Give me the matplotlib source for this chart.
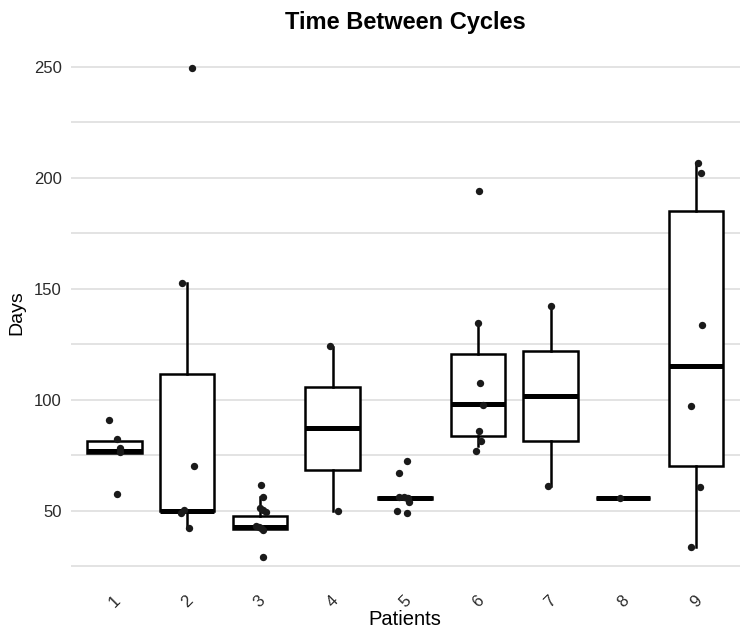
import matplotlib
matplotlib.use('Agg')
import matplotlib.pyplot as plt

plt.rcParams['font.family'] = ['Liberation Sans', 'DejaVu Sans']

patients = ['1', '2', '3', '4', '5', '6', '7', '8', '9']

# box statistics (days)
q1 = [76.1, 50.0, 42.0, 68.6, 55.3, 83.5, 81.5, 56.0, 70.4]
med = [76.8, 50.0, 42.6, 87.2, 55.8, 98.2, 101.8, 56.0, 115.3]
q3 = [81.5, 111.7, 47.9, 105.7, 56.4, 120.7, 122.1, 56.0, 185.1]
whislo = [76.1, 42.3, 42.0, 50.1, 55.3, 79.0, 61.0, 56.0, 33.9]
whishi = [81.5, 152.7, 56.4, 123.7, 56.4, 134.7, 142.5, 56.0, 206.6]

# jittered observations: value and horizontal jitter (category units)
days = [
    [91.0, 82.3, 78.2, 76.3, 57.7],
    [249.7, 152.7, 70.0, 50.5, 49.2, 42.2],
    [61.8, 56.2, 51.2, 50.5, 49.4, 43.4, 42.7, 41.4, 42.2, 29.0],
    [124.3, 50.0],
    [72.5, 67.1, 56.4, 56.2, 55.7, 56.0, 54.2, 50.1, 49.1],
    [194.1, 134.7, 107.5, 97.7, 86.0, 81.5, 77.0],
    [142.5, 61.0],
    [56.0],
    [206.6, 202.4, 133.5, 97.4, 60.8, 33.9],
]
jitter = [
    [-0.08, 0.04, 0.07, 0.07, 0.03],
    [0.07, -0.07, 0.09, -0.04, -0.09, 0.03],
    [0.01, 0.04, 0.0, 0.05, 0.09, -0.05, -0.01, 0.05, 0.02, 0.05],
    [-0.03, 0.08],
    [0.03, -0.08, -0.08, -0.02, 0.03, 0.04, 0.05, -0.11, 0.02],
    [0.01, 0.0, 0.03, 0.07, 0.01, 0.04, -0.03],
    [0.0, -0.03],
    [-0.05],
    [0.03, 0.07, 0.08, -0.07, 0.06, -0.07],
]

fig, ax = plt.subplots(figsize=(7.5, 6.43), dpi=100)
fig.subplots_adjust(left=0.0945, right=0.986, bottom=0.095, top=0.933)

pos = list(range(1, len(patients) + 1))
stats = []
for i in range(len(patients)):
    stats.append({'q1': q1[i], 'med': med[i], 'q3': q3[i],
                  'whislo': whislo[i], 'whishi': whishi[i], 'fliers': []})

ax.bxp(stats, positions=pos, widths=0.75, showfliers=False, showcaps=False,
       patch_artist=True,
       boxprops=dict(facecolor='white', edgecolor='black', linewidth=1.8),
       medianprops=dict(color='black', linewidth=3.6, solid_capstyle='butt'),
       whiskerprops=dict(color='black', linewidth=1.8))

for i in range(len(patients)):
    xs = [pos[i] + j for j in jitter[i]]
    ax.scatter(xs, days[i], s=28, color='#1a1a1a', zorder=5, linewidths=0)

ax.set_xlim(0.4, 9.6)
ax.set_ylim(18, 260.7)
ax.set_yticks([50, 100, 150, 200, 250])
ax.set_yticks([25, 75, 125, 175, 225], minor=True)
ax.set_xticks(pos)
ax.set_xticklabels(patients, rotation=45)

ax.grid(axis='y', which='both', color='#dedede', linewidth=1.2)
ax.set_axisbelow(True)
for s in ax.spines.values():
    s.set_visible(False)
ax.tick_params(axis='both', which='both', length=0, labelsize=12, colors='#2a2a2a')
ax.tick_params(axis='x', pad=8)
ax.tick_params(axis='y', pad=6.5)

ax.set_title('Time Between Cycles', fontsize=17, fontweight='bold', pad=10)
ax.set_xlabel('Patients', fontsize=14.5, labelpad=0)
ax.set_ylabel('Days', fontsize=14, labelpad=6)

plt.savefig('out.png')
